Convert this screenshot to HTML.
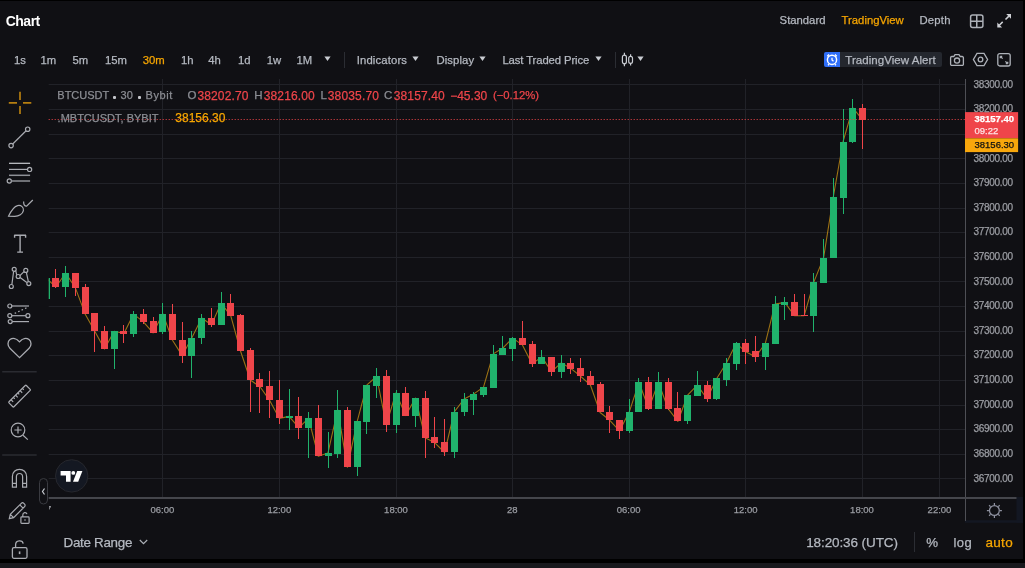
<!DOCTYPE html>
<html><head><meta charset="utf-8"><title>Chart</title>
<style>
html,body{margin:0;padding:0;background:#000;}
body{width:1025px;height:568px;overflow:hidden;position:relative;font-family:"Liberation Sans",Arial,sans-serif;}
.t{position:absolute;white-space:nowrap;-webkit-text-stroke:0.25px currentColor;}
.a{position:absolute;display:block;}
</style></head><body>
<div class="a" style="left:0;top:1px;width:1023px;height:558px;background:#101014"></div>
<div class="a" style="left:0;top:563px;width:1025px;height:5px;background:#18191d"></div>
<div class="t" style="left:5.70px;top:13.95px;font-size:14px;line-height:14px;color:#ffffff;font-weight:700;letter-spacing:-0.5px;-webkit-text-stroke:0;">Chart</div>
<div class="t" style="left:779.60px;top:15.43px;font-size:11.3px;line-height:11.3px;color:#b5b9c1;">Standard</div>
<div class="t" style="left:841.60px;top:15.43px;font-size:11.3px;line-height:11.3px;color:#f7a600;">TradingView</div>
<div class="t" style="left:919.50px;top:15.43px;font-size:11.3px;line-height:11.3px;color:#b5b9c1;letter-spacing:0.2px;">Depth</div>
<svg class="a" style="left:969px;top:13px" width="16" height="16" viewBox="0 0 16 16"><rect x="1.6" y="2.1" width="12.3" height="12.3" rx="2" fill="none" stroke="#adb1b8" stroke-width="1.5"/><path d="M7.75 2.1V14.4M1.6 8.25H13.9" stroke="#adb1b8" stroke-width="1.5"/></svg>
<svg class="a" style="left:996px;top:13px" width="16" height="16" viewBox="0 0 16 16"><path d="M10.2 1H15V5.8Z M1.3 9.6V14.4H6.1Z" fill="#cfd1d6"/><path d="M12.9 3.1L9.5 6.5M3.3 12.3L6.7 8.9" stroke="#cfd1d6" stroke-width="1.5"/></svg>
<div class="t" style="left:13.90px;top:54.93px;font-size:11.3px;line-height:11.3px;color:#b5b9c1;">1s</div>
<div class="t" style="left:40.50px;top:54.93px;font-size:11.3px;line-height:11.3px;color:#b5b9c1;">1m</div>
<div class="t" style="left:72.50px;top:54.93px;font-size:11.3px;line-height:11.3px;color:#b5b9c1;">5m</div>
<div class="t" style="left:104.90px;top:54.93px;font-size:11.3px;line-height:11.3px;color:#b5b9c1;">15m</div>
<div class="t" style="left:142.70px;top:54.93px;font-size:11.3px;line-height:11.3px;color:#f7a600;">30m</div>
<div class="t" style="left:180.90px;top:54.93px;font-size:11.3px;line-height:11.3px;color:#b5b9c1;">1h</div>
<div class="t" style="left:208.20px;top:54.93px;font-size:11.3px;line-height:11.3px;color:#b5b9c1;">4h</div>
<div class="t" style="left:238.00px;top:54.93px;font-size:11.3px;line-height:11.3px;color:#b5b9c1;">1d</div>
<div class="t" style="left:266.70px;top:54.93px;font-size:11.3px;line-height:11.3px;color:#b5b9c1;">1w</div>
<div class="t" style="left:296.50px;top:54.93px;font-size:11.3px;line-height:11.3px;color:#b5b9c1;">1M</div>
<svg class="a" style="left:323.8px;top:56.2px" width="7" height="6" viewBox="0 0 7 6"><path d="M0.4 0.5H6.6L3.5 5Z" fill="#c9ccd2"/></svg>
<div class="a" style="left:344px;top:52px;width:1px;height:16px;background:#2b2d33"></div>
<div class="t" style="left:356.70px;top:54.93px;font-size:11.3px;line-height:11.3px;color:#b5b9c1;letter-spacing:0.15px;">Indicators</div>
<svg class="a" style="left:412.2px;top:56.2px" width="7" height="6" viewBox="0 0 7 6"><path d="M0.4 0.5H6.6L3.5 5Z" fill="#c9ccd2"/></svg>
<div class="t" style="left:436.50px;top:54.93px;font-size:11.3px;line-height:11.3px;color:#b5b9c1;letter-spacing:0.1px;">Display</div>
<svg class="a" style="left:478.6px;top:56.2px" width="7" height="6" viewBox="0 0 7 6"><path d="M0.4 0.5H6.6L3.5 5Z" fill="#c9ccd2"/></svg>
<div class="t" style="left:502.40px;top:54.93px;font-size:11.3px;line-height:11.3px;color:#b5b9c1;letter-spacing:-0.1px;">Last Traded Price</div>
<svg class="a" style="left:594.6px;top:56.2px" width="7" height="6" viewBox="0 0 7 6"><path d="M0.4 0.5H6.6L3.5 5Z" fill="#c9ccd2"/></svg>
<div class="a" style="left:615px;top:52px;width:1px;height:16px;background:#2b2d33"></div>
<svg class="a" style="left:621px;top:52px" width="13" height="15" viewBox="0 0 13 15" fill="none" stroke="#c9ccd2" stroke-width="1.2"><path d="M3.4 0.7V3.4M3.4 11.6V14.3M9.6 2.2V4.6M9.6 11.1V13.6"/><rect x="1.4" y="3.2" width="4" height="8.6" rx="2"/><rect x="7.7" y="4.4" width="3.8" height="6.9" rx="1.9"/></svg>
<svg class="a" style="left:637px;top:56.2px" width="7" height="6" viewBox="0 0 7 6"><path d="M0.4 0.5H6.6L3.5 5Z" fill="#c9ccd2"/></svg>
<div class="a" style="left:824px;top:52px;width:118px;height:15px;background:#24272e;border-radius:2px"></div>
<div class="a" style="left:824px;top:52px;width:16px;height:15px;background:#2f6ef7;border-radius:2px 0 0 2px"></div>
<svg class="a" style="left:825px;top:52px" width="14" height="15" viewBox="0 0 14 15" fill="none" stroke="#fff" stroke-width="1.3"><circle cx="7" cy="7.8" r="4.6" stroke-width="1.45"/><path d="M2.2 4.2L4 2.6M11.8 4.2L10 2.6M4 12.2L3 13.3M10 12.2L11 13.3M7 5.8V8L8.5 9.3" /></svg>
<div class="t" style="left:845.30px;top:54.67px;font-size:11.5px;line-height:11.5px;color:#b5b9c1;letter-spacing:0.05px;">TradingView Alert</div>
<svg class="a" style="left:949px;top:52px" width="16" height="15" viewBox="0 0 16 15" fill="none" stroke="#adb1b8" stroke-width="1.3"><path d="M2.8 4.5H4.8L6 2.6H10L11.2 4.5H13.2A1.2 1.2 0 0 1 14.4 5.7V12.2A1.2 1.2 0 0 1 13.2 13.4H2.8A1.2 1.2 0 0 1 1.6 12.2V5.7A1.2 1.2 0 0 1 2.8 4.5Z"/><circle cx="8" cy="8.6" r="2.6"/></svg>
<svg class="a" style="left:972px;top:52px" width="17" height="15" viewBox="0 0 17 15" fill="none" stroke="#adb1b8" stroke-width="1.3"><path d="M5 1.3H12L15.6 7.5L12 13.7H5L1.4 7.5Z"/><circle cx="8.5" cy="7.5" r="2.3"/></svg>
<svg class="a" style="left:996px;top:52px" width="16" height="16" viewBox="0 0 16 16" fill="none" stroke="#adb1b8" stroke-width="1.3"><rect x="1.8" y="1.6" width="12.4" height="12.4" rx="2"/><path d="M4.3 4.3L6.6 6.6M4.3 4.3H6.2M4.3 4.3V6.2M11.7 11.7L9.4 9.4M11.7 11.7H9.8M11.7 11.7V9.8"/></svg>
<svg class="a" style="left:0;top:0" width="48" height="568" viewBox="0 0 48 568" fill="none" stroke="#a9abb1" stroke-width="1.2"><path d="M20 91.7V99.9M20 106V114.1M8.8 102.9H17M23 102.9H31.3" stroke="#b57e10" stroke-width="1.7"/><circle cx="11.1" cy="145.6" r="2.2"/><circle cx="27.7" cy="129.2" r="2.2"/><path d="M12.7 144L26.1 130.8"/><path d="M9 163.3H30.1" stroke="#c9cbd0"/><path d="M9 169.4H27.4"/><circle cx="29.6" cy="169.4" r="2.1"/><path d="M9 175.3H30.1" stroke="#8e9096" stroke-width="1.5"/><circle cx="9.3" cy="181" r="2.1"/><path d="M11.4 181H30.1" stroke="#8e9096" stroke-width="1.5"/><path d="M8.6 216.1C10.8 211.5 13.8 206.5 17.6 205.6C21.2 204.8 24 207.4 23.4 210.6C22.7 214.1 18.8 216.3 14.8 216.4Z"/><path d="M23.6 201.6C23.6 204.8 24.6 206.3 26.6 206.2L32.8 200"/><path d="M20.1 235.2V252M14.2 235.2H26M14.6 235V237.8M25.6 235V237.8M17.2 252.1H23" stroke-width="1.4"/><path d="M13.6 271.5L11.9 284.3M15.8 270.9L16.7 274.9M19.9 275.6L24 271.6M26.4 272.6L28.3 281.4M20.1 277.5L26.8 282.6"/><circle cx="14.2" cy="269.3" r="2"/><circle cx="25.8" cy="270.4" r="2"/><circle cx="18.2" cy="276.5" r="2"/><circle cx="11.3" cy="286.5" r="2"/><circle cx="28.8" cy="283.6" r="2"/><circle cx="9.8" cy="306" r="2"/><path d="M11.8 306H29"/><path d="M14.7 313.4L26.8 307.7" stroke-dasharray="1.6 2.2"/><circle cx="9.8" cy="315.7" r="2"/><path d="M11.8 315.7H25.9"/><circle cx="27.9" cy="315.7" r="2"/><circle cx="10.2" cy="321.6" r="2"/><path d="M12.2 321.6H29"/><path d="M19.5 357.6L9.9 348.2C7.3 345.6 7.4 341.6 10 339.6C12.6 337.6 16.5 338.2 19.5 341.8C22.5 338.2 26.4 337.6 29 339.6C31.6 341.6 31.7 345.6 29.1 348.2Z" stroke-width="1.3"/><path d="M2.2 371.8H36.7M2.2 455H36.7" stroke="#2a2b31" stroke-width="1.4"/><g transform="rotate(-45 19.6 396.1)"><rect x="7.3" y="392.6" width="24.6" height="7" rx="0.8"/><path d="M11 392.6V395.6M14.2 392.6V394.6M17.4 392.6V395.6M20.6 392.6V394.6M23.8 392.6V395.6M27 392.6V394.6"/></g><circle cx="18" cy="430" r="6.8"/><path d="M18 426.4V433.6M14.4 430H21.6M23 435.2L27.8 439.6"/><path d="M12.4 487.2V476.5C12.4 472 15.6 469.4 19.5 469.4C23.4 469.4 26.6 472 26.6 476.5V487.2H22.6V476.8C22.6 474.8 21.2 473.5 19.5 473.5C17.8 473.5 16.4 474.8 16.4 476.8V487.2Z M12.4 483.4H16.4M22.6 483.4H26.6" stroke-width="1.2"/><path d="M9.3 518.6L10.3 514.3L21.3 503.3C22 502.6 23.1 502.6 23.8 503.3L24.6 504.1C25.3 504.8 25.3 505.9 24.6 506.6L13.6 517.6Z M10.3 514.3L13.6 517.6M19.8 504.8L23.1 508.1"/><rect x="20.9" y="516.9" width="8.2" height="6.4" rx="0.8"/><path d="M22.8 516.9V514.9C22.8 512.2 26.3 511.8 27 514.2" /><path d="M25 519.3V520.8" stroke-width="1.2"/><rect x="12.4" y="547.7" width="14.6" height="10.6" rx="1.5" stroke-width="1.3"/><path d="M15.6 547.7V544.7C15.6 539.8 22.6 539.6 23.2 543.6" stroke-width="1.3"/><path d="M19.6 551.4V554.1" stroke-width="1.6"/></svg>
<svg class="a" style="left:0;top:0" width="1025" height="568" viewBox="0 0 1025 568"><rect x="1016.5" y="497" width="6.5" height="26" fill="#131722"/><rect x="965" y="520.2" width="58" height="2.6" fill="#131722"/><defs><clipPath id="cp"><rect x="48.7" y="79" width="916.3" height="418"/></clipPath></defs><path d="M48.7 84.5H965 M48.7 109.5H965 M48.7 134.5H965 M48.7 158.5H965 M48.7 183.5H965 M48.7 208.5H965 M48.7 232.5H965 M48.7 257.5H965 M48.7 281.5H965 M48.7 306.5H965 M48.7 331.5H965 M48.7 355.5H965 M48.7 380.5H965 M48.7 405.5H965 M48.7 429.5H965 M48.7 454.5H965 M48.7 478.5H965 M162.5 79V497 M279.5 79V497 M396.5 79V497 M512.5 79V497 M629.5 79V497 M745.5 79V497 M862.5 79V497 M939.5 79V497" stroke="#212228" stroke-width="1" fill="none"/><g clip-path="url(#cp)"><polyline points="46.2,278.0 55.9,287.0 65.6,273.0 75.3,287.6 85.1,313.9 94.8,331.3 104.5,348.9 114.2,331.3 123.9,333.5 133.6,314.1 143.4,321.9 153.1,332.9 162.8,313.8 172.5,340.2 182.2,355.6 192.0,337.5 201.7,318.0 211.4,324.8 221.1,303.2 230.8,315.9 240.5,351.0 250.3,380.0 260.0,386.8 269.7,400.4 279.4,418.4 289.1,416.4 298.8,427.7 308.6,418.4 318.3,456.3 328.0,452.9 337.7,409.7 347.4,467.3 357.2,421.3 366.9,384.9 376.6,376.5 386.3,424.9 396.0,392.7 405.7,415.6 415.5,398.0 425.2,437.8 434.9,442.8 444.6,452.5 454.3,411.8 464.1,399.0 473.8,393.9 483.5,387.1 493.2,353.9 502.9,348.0 512.6,338.1 522.4,344.9 532.1,363.9 541.8,356.9 551.5,371.7 561.2,362.8 571.0,368.6 580.7,376.3 590.4,385.0 600.1,412.5 609.8,420.3 619.5,430.9 629.3,411.8 639.0,382.3 648.7,408.7 658.4,382.3 668.1,408.7 677.9,421.3 687.6,395.1 697.3,385.1 707.0,398.8 716.7,378.5 726.4,363.0 736.2,343.3 745.9,351.8 755.6,357.0 765.3,343.3 775.0,304.1 784.8,302.4 794.5,315.7 804.2,315.7 813.9,281.9 823.6,257.6 833.3,196.9 843.1,141.5 852.8,107.9 862.5,119.6" fill="none" stroke="#9c7215" stroke-width="1.1" stroke-linejoin="round"/><rect x="46" y="278" width="1" height="21" fill="#20b26c"/><rect x="43" y="278" width="7" height="21" fill="#20b26c"/><rect x="55" y="269" width="1" height="19" fill="#ef454a"/><rect x="52" y="278" width="7" height="9" fill="#ef454a"/><rect x="65" y="266" width="1" height="31" fill="#20b26c"/><rect x="62" y="273" width="7" height="14" fill="#20b26c"/><rect x="75" y="273" width="1" height="23" fill="#ef454a"/><rect x="72" y="273" width="7" height="15" fill="#ef454a"/><rect x="85" y="284" width="1" height="30" fill="#ef454a"/><rect x="82" y="287" width="7" height="27" fill="#ef454a"/><rect x="94" y="313" width="1" height="39" fill="#ef454a"/><rect x="91" y="313" width="7" height="18" fill="#ef454a"/><rect x="104" y="326" width="1" height="23" fill="#ef454a"/><rect x="101" y="331" width="7" height="18" fill="#ef454a"/><rect x="114" y="331" width="1" height="38" fill="#20b26c"/><rect x="111" y="331" width="7" height="18" fill="#20b26c"/><rect x="123" y="325" width="1" height="18" fill="#ef454a"/><rect x="120" y="331" width="7" height="3" fill="#ef454a"/><rect x="133" y="311" width="1" height="26" fill="#20b26c"/><rect x="130" y="314" width="7" height="20" fill="#20b26c"/><rect x="143" y="309" width="1" height="15" fill="#ef454a"/><rect x="140" y="314" width="7" height="8" fill="#ef454a"/><rect x="153" y="317" width="1" height="16" fill="#ef454a"/><rect x="150" y="321" width="7" height="12" fill="#ef454a"/><rect x="162" y="303" width="1" height="31" fill="#20b26c"/><rect x="159" y="314" width="7" height="18" fill="#20b26c"/><rect x="172" y="304" width="1" height="36" fill="#ef454a"/><rect x="169" y="314" width="7" height="26" fill="#ef454a"/><rect x="182" y="322" width="1" height="41" fill="#ef454a"/><rect x="179" y="340" width="7" height="16" fill="#ef454a"/><rect x="191" y="331" width="1" height="47" fill="#20b26c"/><rect x="188" y="338" width="7" height="18" fill="#20b26c"/><rect x="201" y="314" width="1" height="30" fill="#20b26c"/><rect x="198" y="318" width="7" height="20" fill="#20b26c"/><rect x="211" y="308" width="1" height="19" fill="#ef454a"/><rect x="208" y="318" width="7" height="7" fill="#ef454a"/><rect x="221" y="292" width="1" height="33" fill="#20b26c"/><rect x="218" y="303" width="7" height="22" fill="#20b26c"/><rect x="230" y="294" width="1" height="22" fill="#ef454a"/><rect x="227" y="303" width="7" height="13" fill="#ef454a"/><rect x="240" y="314" width="1" height="37" fill="#ef454a"/><rect x="237" y="315" width="7" height="36" fill="#ef454a"/><rect x="250" y="348" width="1" height="64" fill="#ef454a"/><rect x="247" y="350" width="7" height="30" fill="#ef454a"/><rect x="259" y="373" width="1" height="40" fill="#ef454a"/><rect x="256" y="379" width="7" height="8" fill="#ef454a"/><rect x="269" y="371" width="1" height="47" fill="#ef454a"/><rect x="266" y="386" width="7" height="14" fill="#ef454a"/><rect x="279" y="380" width="1" height="44" fill="#ef454a"/><rect x="276" y="400" width="7" height="18" fill="#ef454a"/><rect x="289" y="389" width="1" height="41" fill="#20b26c"/><rect x="286" y="416" width="7" height="2" fill="#20b26c"/><rect x="298" y="397" width="1" height="42" fill="#ef454a"/><rect x="295" y="416" width="7" height="12" fill="#ef454a"/><rect x="308" y="412" width="1" height="46" fill="#20b26c"/><rect x="305" y="418" width="7" height="10" fill="#20b26c"/><rect x="318" y="405" width="1" height="51" fill="#ef454a"/><rect x="315" y="418" width="7" height="38" fill="#ef454a"/><rect x="328" y="432" width="1" height="36" fill="#20b26c"/><rect x="325" y="453" width="7" height="3" fill="#20b26c"/><rect x="337" y="390" width="1" height="68" fill="#20b26c"/><rect x="334" y="410" width="7" height="44" fill="#20b26c"/><rect x="347" y="407" width="1" height="60" fill="#ef454a"/><rect x="344" y="410" width="7" height="57" fill="#ef454a"/><rect x="357" y="421" width="1" height="55" fill="#20b26c"/><rect x="354" y="421" width="7" height="46" fill="#20b26c"/><rect x="366" y="385" width="1" height="49" fill="#20b26c"/><rect x="363" y="385" width="7" height="37" fill="#20b26c"/><rect x="376" y="368" width="1" height="30" fill="#20b26c"/><rect x="373" y="376" width="7" height="10" fill="#20b26c"/><rect x="386" y="370" width="1" height="62" fill="#ef454a"/><rect x="383" y="376" width="7" height="49" fill="#ef454a"/><rect x="396" y="390" width="1" height="43" fill="#20b26c"/><rect x="393" y="393" width="7" height="32" fill="#20b26c"/><rect x="405" y="387" width="1" height="29" fill="#ef454a"/><rect x="402" y="393" width="7" height="23" fill="#ef454a"/><rect x="415" y="398" width="1" height="29" fill="#20b26c"/><rect x="412" y="398" width="7" height="18" fill="#20b26c"/><rect x="425" y="391" width="1" height="67" fill="#ef454a"/><rect x="422" y="398" width="7" height="40" fill="#ef454a"/><rect x="434" y="417" width="1" height="31" fill="#ef454a"/><rect x="431" y="437" width="7" height="6" fill="#ef454a"/><rect x="444" y="419" width="1" height="37" fill="#ef454a"/><rect x="441" y="442" width="7" height="10" fill="#ef454a"/><rect x="454" y="407" width="1" height="51" fill="#20b26c"/><rect x="451" y="412" width="7" height="40" fill="#20b26c"/><rect x="464" y="393" width="1" height="23" fill="#20b26c"/><rect x="461" y="399" width="7" height="13" fill="#20b26c"/><rect x="473" y="392" width="1" height="23" fill="#20b26c"/><rect x="470" y="394" width="7" height="6" fill="#20b26c"/><rect x="483" y="387" width="1" height="10" fill="#20b26c"/><rect x="480" y="387" width="7" height="8" fill="#20b26c"/><rect x="493" y="345" width="1" height="43" fill="#20b26c"/><rect x="490" y="354" width="7" height="34" fill="#20b26c"/><rect x="502" y="336" width="1" height="19" fill="#20b26c"/><rect x="499" y="348" width="7" height="7" fill="#20b26c"/><rect x="512" y="337" width="1" height="24" fill="#20b26c"/><rect x="509" y="338" width="7" height="11" fill="#20b26c"/><rect x="522" y="321" width="1" height="24" fill="#ef454a"/><rect x="519" y="338" width="7" height="7" fill="#ef454a"/><rect x="532" y="341" width="1" height="26" fill="#ef454a"/><rect x="529" y="344" width="7" height="20" fill="#ef454a"/><rect x="541" y="350" width="1" height="14" fill="#20b26c"/><rect x="538" y="357" width="7" height="7" fill="#20b26c"/><rect x="551" y="357" width="1" height="19" fill="#ef454a"/><rect x="548" y="357" width="7" height="15" fill="#ef454a"/><rect x="561" y="355" width="1" height="23" fill="#20b26c"/><rect x="558" y="363" width="7" height="9" fill="#20b26c"/><rect x="570" y="358" width="1" height="16" fill="#ef454a"/><rect x="567" y="363" width="7" height="6" fill="#ef454a"/><rect x="580" y="358" width="1" height="24" fill="#ef454a"/><rect x="577" y="368" width="7" height="8" fill="#ef454a"/><rect x="590" y="371" width="1" height="14" fill="#ef454a"/><rect x="587" y="376" width="7" height="9" fill="#ef454a"/><rect x="600" y="382" width="1" height="30" fill="#ef454a"/><rect x="597" y="384" width="7" height="28" fill="#ef454a"/><rect x="609" y="406" width="1" height="27" fill="#ef454a"/><rect x="606" y="412" width="7" height="8" fill="#ef454a"/><rect x="619" y="420" width="1" height="19" fill="#ef454a"/><rect x="616" y="420" width="7" height="11" fill="#ef454a"/><rect x="629" y="399" width="1" height="34" fill="#20b26c"/><rect x="626" y="412" width="7" height="19" fill="#20b26c"/><rect x="638" y="378" width="1" height="34" fill="#20b26c"/><rect x="635" y="382" width="7" height="30" fill="#20b26c"/><rect x="648" y="377" width="1" height="33" fill="#ef454a"/><rect x="645" y="382" width="7" height="27" fill="#ef454a"/><rect x="658" y="372" width="1" height="37" fill="#20b26c"/><rect x="655" y="382" width="7" height="27" fill="#20b26c"/><rect x="668" y="378" width="1" height="32" fill="#ef454a"/><rect x="665" y="382" width="7" height="27" fill="#ef454a"/><rect x="677" y="392" width="1" height="29" fill="#ef454a"/><rect x="674" y="408" width="7" height="13" fill="#ef454a"/><rect x="687" y="395" width="1" height="29" fill="#20b26c"/><rect x="684" y="395" width="7" height="26" fill="#20b26c"/><rect x="697" y="371" width="1" height="25" fill="#20b26c"/><rect x="694" y="385" width="7" height="11" fill="#20b26c"/><rect x="707" y="381" width="1" height="21" fill="#ef454a"/><rect x="704" y="385" width="7" height="14" fill="#ef454a"/><rect x="716" y="378" width="1" height="22" fill="#20b26c"/><rect x="713" y="378" width="7" height="21" fill="#20b26c"/><rect x="726" y="358" width="1" height="28" fill="#20b26c"/><rect x="723" y="363" width="7" height="17" fill="#20b26c"/><rect x="736" y="342" width="1" height="28" fill="#20b26c"/><rect x="733" y="343" width="7" height="21" fill="#20b26c"/><rect x="745" y="339" width="1" height="25" fill="#ef454a"/><rect x="742" y="343" width="7" height="9" fill="#ef454a"/><rect x="755" y="336" width="1" height="26" fill="#ef454a"/><rect x="752" y="351" width="7" height="6" fill="#ef454a"/><rect x="765" y="343" width="1" height="27" fill="#20b26c"/><rect x="762" y="343" width="7" height="14" fill="#20b26c"/><rect x="775" y="296" width="1" height="48" fill="#20b26c"/><rect x="772" y="304" width="7" height="40" fill="#20b26c"/><rect x="784" y="297" width="1" height="23" fill="#20b26c"/><rect x="781" y="302" width="7" height="3" fill="#20b26c"/><rect x="794" y="294" width="1" height="22" fill="#ef454a"/><rect x="791" y="302" width="7" height="14" fill="#ef454a"/><rect x="804" y="294" width="1" height="22" fill="#ef454a"/><rect x="801" y="315" width="7" height="1" fill="#ef454a"/><rect x="813" y="273" width="1" height="59" fill="#20b26c"/><rect x="810" y="282" width="7" height="34" fill="#20b26c"/><rect x="823" y="239" width="1" height="44" fill="#20b26c"/><rect x="820" y="258" width="7" height="25" fill="#20b26c"/><rect x="833" y="178" width="1" height="80" fill="#20b26c"/><rect x="830" y="197" width="7" height="61" fill="#20b26c"/><rect x="843" y="109" width="1" height="105" fill="#20b26c"/><rect x="840" y="142" width="7" height="56" fill="#20b26c"/><rect x="852" y="99" width="1" height="44" fill="#20b26c"/><rect x="849" y="108" width="7" height="34" fill="#20b26c"/><rect x="862" y="104" width="1" height="45" fill="#ef454a"/><rect x="859" y="108" width="7" height="12" fill="#ef454a"/></g><path d="M48.7 119.5H965" stroke="#ef454a" stroke-width="1" stroke-dasharray="1 2"/><path d="M965.5 79V521" stroke="#4e4f55" stroke-width="1"/><path d="M48.7 498H1016.5" stroke="#45464c" stroke-width="2"/><rect x="965" y="112.1" width="53.1" height="26.2" fill="#ef454a"/><rect x="965" y="138.3" width="53.1" height="13.8" fill="#f8a70c"/><circle cx="71.7" cy="475.9" r="16.2" fill="#141822" stroke="#26272d" stroke-width="1"/><path d="M60.6 471.1H70.6V481.7H66V475.6H60.6Z" fill="#fff"/><circle cx="73.3" cy="472.9" r="1.9" fill="#fff"/><path d="M77.2 471.1H82.4L78.2 481.7H73Z" fill="#fff"/><rect x="39.5" y="478.5" width="8" height="25.5" rx="4" fill="#101014" stroke="#3a3b41" stroke-width="1"/><path d="M44.5 488.5L42.5 491.5L44.5 494.5" fill="none" stroke="#c9ccd2" stroke-width="1.2"/><g stroke="#8f92a0" stroke-width="1.25" fill="none"><circle cx="994.4" cy="510.5" r="4.9"/><path d="M999.90 510.50L1001.90 510.50M998.29 514.39L999.70 515.80M994.40 516.00L994.40 518.00M990.51 514.39L989.10 515.80M988.90 510.50L986.90 510.50M990.51 506.61L989.10 505.20M994.40 505.00L994.40 503.00M998.29 506.61L999.70 505.20"/></g></svg>
<div class="t" style="left:57.30px;top:90.39px;font-size:11px;line-height:11px;color:#8b8d93;">BTCUSDT</div>
<div class="a" style="left:113.3px;top:96.2px;width:2.6px;height:2.5px;border-radius:1px;background:#c4c6cb"></div>
<div class="t" style="left:120.60px;top:90.39px;font-size:11px;line-height:11px;color:#8b8d93;">30</div>
<div class="a" style="left:138px;top:96.2px;width:2.6px;height:2.5px;border-radius:1px;background:#c4c6cb"></div>
<div class="t" style="left:145.50px;top:90.39px;font-size:11px;line-height:11px;color:#8b8d93;letter-spacing:0.6px;">Bybit</div>
<div class="t" style="left:187.40px;top:89.97px;font-size:11.5px;line-height:11.5px;color:#8b8d93;">O</div>
<div class="t" style="left:197.40px;top:89.54px;font-size:12px;line-height:12px;color:#ef454a;letter-spacing:0.15px;">38202.70</div>
<div class="t" style="left:254.30px;top:89.97px;font-size:11.5px;line-height:11.5px;color:#8b8d93;">H</div>
<div class="t" style="left:263.70px;top:89.54px;font-size:12px;line-height:12px;color:#ef454a;letter-spacing:0.15px;">38216.00</div>
<div class="t" style="left:320.50px;top:89.97px;font-size:11.5px;line-height:11.5px;color:#8b8d93;">L</div>
<div class="t" style="left:327.80px;top:89.54px;font-size:12px;line-height:12px;color:#ef454a;letter-spacing:0.15px;">38035.70</div>
<div class="t" style="left:383.90px;top:89.97px;font-size:11.5px;line-height:11.5px;color:#8b8d93;">C</div>
<div class="t" style="left:393.70px;top:89.54px;font-size:12px;line-height:12px;color:#ef454a;letter-spacing:0.15px;">38157.40</div>
<div class="t" style="left:450.20px;top:89.54px;font-size:12px;line-height:12px;color:#ef454a;letter-spacing:0.0px;">&#8722;45.30</div>
<div class="t" style="left:492.90px;top:90.13px;font-size:11.3px;line-height:11.3px;color:#ef454a;">(&#8722;0.12%)</div>
<div class="t" style="left:57.60px;top:113.09px;font-size:11px;line-height:11px;color:#8b8d93;">.MBTCUSDT, BYBIT</div>
<div class="t" style="left:175.30px;top:112.24px;font-size:12px;line-height:12px;color:#f7a600;">38156.30</div>
<div class="t" style="left:973.40px;top:79.63px;font-size:10px;line-height:10px;color:#9b9da3;letter-spacing:-0.28px;">38300.00</div>
<div class="t" style="left:973.40px;top:104.25px;font-size:10px;line-height:10px;color:#9b9da3;letter-spacing:-0.28px;">38200.00</div>
<div class="t" style="left:973.40px;top:153.50px;font-size:10px;line-height:10px;color:#9b9da3;letter-spacing:-0.28px;">38000.00</div>
<div class="t" style="left:973.40px;top:178.12px;font-size:10px;line-height:10px;color:#9b9da3;letter-spacing:-0.28px;">37900.00</div>
<div class="t" style="left:973.40px;top:202.74px;font-size:10px;line-height:10px;color:#9b9da3;letter-spacing:-0.28px;">37800.00</div>
<div class="t" style="left:973.40px;top:227.35px;font-size:10px;line-height:10px;color:#9b9da3;letter-spacing:-0.28px;">37700.00</div>
<div class="t" style="left:973.40px;top:251.98px;font-size:10px;line-height:10px;color:#9b9da3;letter-spacing:-0.28px;">37600.00</div>
<div class="t" style="left:973.40px;top:276.60px;font-size:10px;line-height:10px;color:#9b9da3;letter-spacing:-0.28px;">37500.00</div>
<div class="t" style="left:973.40px;top:301.22px;font-size:10px;line-height:10px;color:#9b9da3;letter-spacing:-0.28px;">37400.00</div>
<div class="t" style="left:973.40px;top:325.84px;font-size:10px;line-height:10px;color:#9b9da3;letter-spacing:-0.28px;">37300.00</div>
<div class="t" style="left:973.40px;top:350.46px;font-size:10px;line-height:10px;color:#9b9da3;letter-spacing:-0.28px;">37200.00</div>
<div class="t" style="left:973.40px;top:375.08px;font-size:10px;line-height:10px;color:#9b9da3;letter-spacing:-0.28px;">37100.00</div>
<div class="t" style="left:973.40px;top:399.70px;font-size:10px;line-height:10px;color:#9b9da3;letter-spacing:-0.28px;">37000.00</div>
<div class="t" style="left:973.40px;top:424.32px;font-size:10px;line-height:10px;color:#9b9da3;letter-spacing:-0.28px;">36900.00</div>
<div class="t" style="left:973.40px;top:448.94px;font-size:10px;line-height:10px;color:#9b9da3;letter-spacing:-0.28px;">36800.00</div>
<div class="t" style="left:973.40px;top:473.56px;font-size:10px;line-height:10px;color:#9b9da3;letter-spacing:-0.28px;">36700.00</div>
<div class="t" style="left:974.40px;top:114.16px;font-size:9.5px;line-height:9.5px;color:#ffffff;font-weight:700;">38157.40</div>
<div class="t" style="left:974.50px;top:126.46px;font-size:9.5px;line-height:9.5px;color:#ffe3e4;">09:22</div>
<div class="t" style="left:974.50px;top:140.06px;font-size:9.5px;line-height:9.5px;color:#111111;">38156.30</div>
<div class="t" style="left:62.40px;width:200px;text-align:center;top:505.16px;font-size:9.5px;line-height:9.5px;color:#9b9da3;">06:00</div>
<div class="t" style="left:179.30px;width:200px;text-align:center;top:505.16px;font-size:9.5px;line-height:9.5px;color:#9b9da3;">12:00</div>
<div class="t" style="left:296.00px;width:200px;text-align:center;top:505.16px;font-size:9.5px;line-height:9.5px;color:#9b9da3;">18:00</div>
<div class="t" style="left:412.30px;width:200px;text-align:center;top:505.16px;font-size:9.5px;line-height:9.5px;color:#9b9da3;">28</div>
<div class="t" style="left:528.70px;width:200px;text-align:center;top:505.16px;font-size:9.5px;line-height:9.5px;color:#9b9da3;">06:00</div>
<div class="t" style="left:645.60px;width:200px;text-align:center;top:505.16px;font-size:9.5px;line-height:9.5px;color:#9b9da3;">12:00</div>
<div class="t" style="left:762.00px;width:200px;text-align:center;top:505.16px;font-size:9.5px;line-height:9.5px;color:#9b9da3;">18:00</div>
<div class="t" style="left:839.50px;width:200px;text-align:center;top:505.16px;font-size:9.5px;line-height:9.5px;color:#9b9da3;">22:00</div>
<div class="a" style="left:48.7px;top:500px;width:10px;height:16px;overflow:hidden"><div class="t" style="left:-7.9px;top:4.4px;font-size:9.5px;line-height:9.5px;color:#9b9da3">27</div></div>
<div class="t" style="left:63.60px;top:535.66px;font-size:13.4px;line-height:13.4px;color:#b5b9c1;letter-spacing:-0.3px;">Date Range</div>
<svg class="a" style="left:139px;top:539px" width="9" height="6" viewBox="0 0 9 6" fill="none" stroke="#adb1b8" stroke-width="1.2"><path d="M0.8 1L4.5 4.6L8.2 1"/></svg>
<div class="t" style="left:806.20px;top:535.97px;font-size:13.5px;line-height:13.5px;color:#b5b9c1;letter-spacing:-0.1px;">18:20:36 (UTC)</div>
<div class="a" style="left:913.5px;top:532px;width:1px;height:20px;background:#2b2d33"></div>
<div class="t" style="left:926.30px;top:536.14px;font-size:13.3px;line-height:13.3px;color:#b5b9c1;">%</div>
<div class="t" style="left:953.40px;top:536.40px;font-size:13px;line-height:13px;color:#b5b9c1;letter-spacing:0.5px;">log</div>
<div class="t" style="left:985.40px;top:535.97px;font-size:13.5px;line-height:13.5px;color:#f7a600;letter-spacing:0.35px;">auto</div>
</body></html>
